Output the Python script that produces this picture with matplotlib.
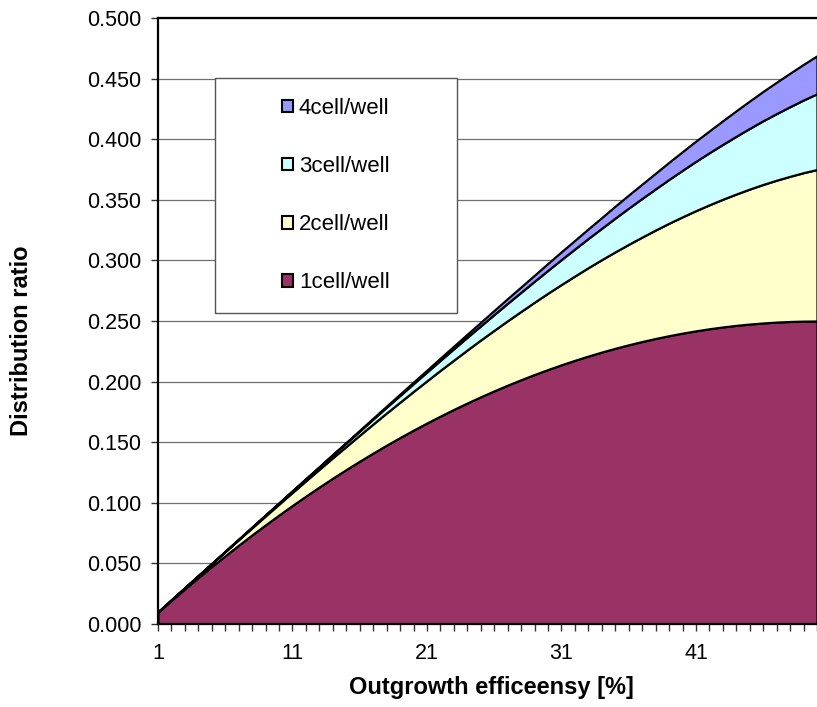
import matplotlib
matplotlib.use("Agg")
import matplotlib.pyplot as plt
from matplotlib.patches import Rectangle
from matplotlib.ticker import MultipleLocator, FormatStrFormatter
import numpy as np

plt.rcParams['font.family'] = ['Liberation Sans', 'DejaVu Sans']

# outgrowth efficiency [%]
efficiency = list(range(1, 51))

one_cell = [0.0099, 0.0196, 0.0291, 0.0384, 0.0475, 0.0564, 0.0651, 0.0736, 0.0819, 0.0900,
            0.0979, 0.1056, 0.1131, 0.1204, 0.1275, 0.1344, 0.1411, 0.1476, 0.1539, 0.1600,
            0.1659, 0.1716, 0.1771, 0.1824, 0.1875, 0.1924, 0.1971, 0.2016, 0.2059, 0.2100,
            0.2139, 0.2176, 0.2211, 0.2244, 0.2275, 0.2304, 0.2331, 0.2356, 0.2379, 0.2400,
            0.2419, 0.2436, 0.2451, 0.2464, 0.2475, 0.2484, 0.2491, 0.2496, 0.2499, 0.2500]

two_cell = [0.0001, 0.0004, 0.0009, 0.0015, 0.0024, 0.0034, 0.0046, 0.0059, 0.0074, 0.0090,
            0.0108, 0.0127, 0.0147, 0.0169, 0.0191, 0.0215, 0.0240, 0.0266, 0.0292, 0.0320,
            0.0348, 0.0378, 0.0407, 0.0438, 0.0469, 0.0500, 0.0532, 0.0564, 0.0597, 0.0630,
            0.0663, 0.0696, 0.0730, 0.0763, 0.0796, 0.0829, 0.0862, 0.0895, 0.0928, 0.0960,
            0.0992, 0.1023, 0.1054, 0.1084, 0.1114, 0.1143, 0.1171, 0.1198, 0.1225, 0.1250]

three_cell = [0.0000, 0.0000, 0.0000, 0.0001, 0.0001, 0.0002, 0.0003, 0.0005, 0.0007, 0.0009,
              0.0012, 0.0015, 0.0019, 0.0024, 0.0029, 0.0034, 0.0041, 0.0048, 0.0056, 0.0064,
              0.0073, 0.0083, 0.0094, 0.0105, 0.0117, 0.0130, 0.0144, 0.0158, 0.0173, 0.0189,
              0.0206, 0.0223, 0.0241, 0.0259, 0.0279, 0.0299, 0.0319, 0.0340, 0.0362, 0.0384,
              0.0407, 0.0430, 0.0453, 0.0477, 0.0501, 0.0526, 0.0550, 0.0575, 0.0600, 0.0625]

four_cell = [0.0000, 0.0000, 0.0000, 0.0000, 0.0000, 0.0000, 0.0000, 0.0000, 0.0001, 0.0001,
             0.0001, 0.0002, 0.0002, 0.0003, 0.0004, 0.0006, 0.0007, 0.0009, 0.0011, 0.0013,
             0.0015, 0.0018, 0.0022, 0.0025, 0.0029, 0.0034, 0.0039, 0.0044, 0.0050, 0.0057,
             0.0064, 0.0071, 0.0079, 0.0088, 0.0098, 0.0108, 0.0118, 0.0129, 0.0141, 0.0154,
             0.0167, 0.0180, 0.0195, 0.0210, 0.0226, 0.0242, 0.0259, 0.0276, 0.0294, 0.0313]

labels = ["1cell/well", "2cell/well", "3cell/well", "4cell/well"]
colors = ["#993366", "#FFFFCC", "#CCFFFF", "#9999FF"]

fig = plt.figure(figsize=(8.17, 7.07), dpi=100)
ax = fig.add_axes([158 / 817, 83 / 707, 659 / 817, 606 / 707])

ax.yaxis.grid(True, color="#6f6f6f", linewidth=0.9)
ax.set_axisbelow(True)

polys = ax.stackplot(efficiency, one_cell, two_cell, three_cell, four_cell,
                     colors=colors, edgecolor="black", linewidth=1.6, labels=labels,
                     zorder=2)

ax.set_xlim(1, 49.4)
ax.set_ylim(0, 0.5)
ax.yaxis.set_major_locator(MultipleLocator(0.05))
ax.yaxis.set_major_formatter(FormatStrFormatter("%.3f"))
ax.set_xticks([1, 11, 21, 31, 41])
ax.set_xticks(efficiency, minor=True)

ax.tick_params(axis="both", which="both", direction="out", length=5, width=1,
               color="#333333", labelsize=15.5)
ax.tick_params(axis="y", pad=7)
ax.tick_params(axis="x", pad=9)

for side in ["left", "bottom", "top"]:
    ax.spines[side].set_linewidth(1.6)
    ax.spines[side].set_zorder(3)
ax.spines["right"].set_visible(False)

ax.set_xlabel("Outgrowth efficeensy [%]", fontsize=17, fontweight="bold")
ax.xaxis.set_label_coords(0.506, -0.1056)
ax.xaxis.label.set_va("center")
ax.set_ylabel("Distribution ratio", fontsize=17, fontweight="bold")
ax.yaxis.set_label_coords(-0.2064, 0.467)
ax.yaxis.label.set_va("center")

# legend frame drawn separately so the entries sit centred in a wide box
box_x0, box_y0 = (215 - 158) / 659, (624 - 313) / 606
box_w, box_h = (457 - 215) / 659, (313 - 78) / 606
ax.add_patch(Rectangle((box_x0, box_y0), box_w, box_h, transform=ax.transAxes,
                       facecolor="white", edgecolor="#555555", linewidth=1, zorder=4))

handles, names = ax.get_legend_handles_labels()
leg = ax.legend(handles[::-1], names[::-1], loc="center",
                bbox_to_anchor=(box_x0 + box_w / 2, box_y0 + box_h / 2),
                frameon=False, fontsize=16, labelspacing=1.67,
                handlelength=0.5, handleheight=0.5, handletextpad=0.25)
leg.set_zorder(5)
for h in leg.legend_handles:
    h.set_linewidth(1.5)
    h.set_edgecolor("black")

fig.savefig("out.png", dpi=100)
